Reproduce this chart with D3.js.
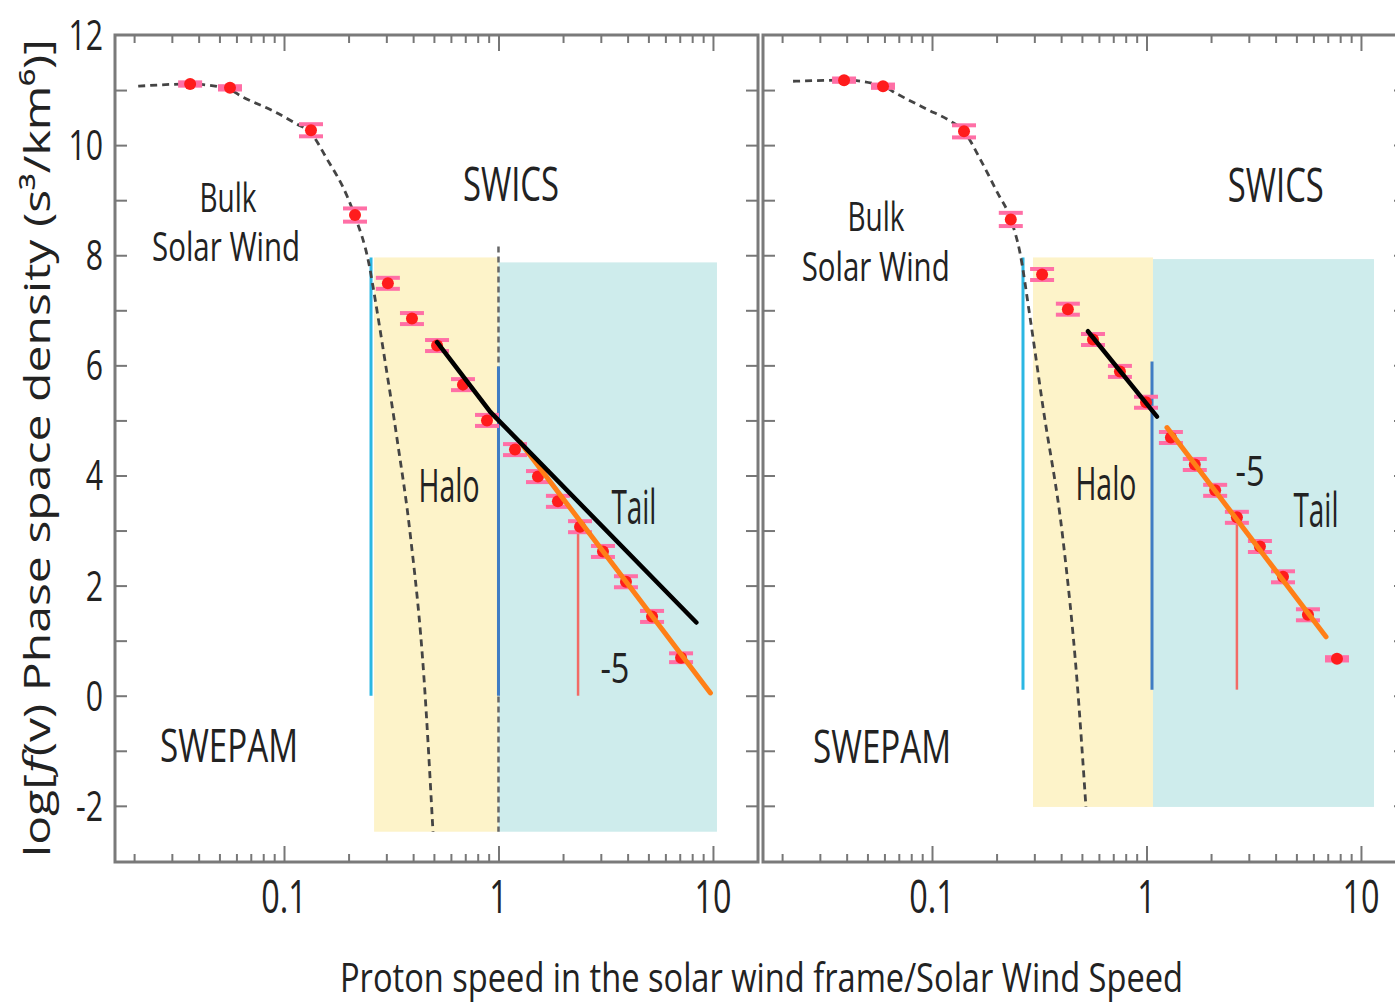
<!DOCTYPE html>
<html>
<head>
<meta charset="utf-8">
<script src="https://cdn.jsdelivr.net/npm/d3@7"></script>
<style>
  body { margin: 0; background: #fff; }
  text { font-family: "Open Sans", "Noto Sans", sans-serif; fill: #222; }
</style>
</head>
<body>
<div id="chart"></div>
<script>
// measured points, left panel (SWEPAM + SWICS)
var vLeft = [0.0365, 0.056, 0.1336, 0.2143, 0.305, 0.395, 0.517, 0.683, 0.884, 1.194, 1.528, 1.893, 2.40, 3.07, 3.93, 5.20, 7.10];
var fLeft = [11.11, 11.04, 10.27, 8.73, 7.49, 6.85, 6.36, 5.65, 5.0, 4.47, 3.98, 3.53, 3.07, 2.62, 2.07, 1.44, 0.69];
var eLeft = [0.03, 0.03, 0.11, 0.12, 0.1, 0.1, 0.1, 0.1, 0.1, 0.1, 0.1, 0.1, 0.1, 0.1, 0.1, 0.1, 0.08];

// measured points, right panel
var vRight = [0.0389, 0.0591, 0.141, 0.233, 0.326, 0.430, 0.563, 0.752, 0.995, 1.30, 1.68, 2.09, 2.64, 3.38, 4.33, 5.66, 7.73];
var fRight = [11.18, 11.07, 10.25, 8.65, 7.65, 7.02, 6.47, 5.89, 5.33, 4.69, 4.20, 3.73, 3.24, 2.71, 2.16, 1.47, 0.67];
var eRight = [0.03, 0.03, 0.11, 0.12, 0.1, 0.1, 0.1, 0.1, 0.1, 0.1, 0.1, 0.1, 0.1, 0.1, 0.1, 0.1, 0.03];

// bulk (core) curve
var coreLeftV = [0.0209, 0.0365, 0.0548, 0.0644, 0.0889, 0.115, 0.132, 0.1585, 0.197, 0.214, 0.249, 0.266, 0.290, 0.337, 0.387, 0.450, 0.495];
var coreLeftF = [11.07, 11.11, 11.02, 10.87, 10.62, 10.38, 10.24, 9.75, 9.07, 8.71, 7.84, 7.2, 6.29, 4.65, 2.96, 0.29, -2.47];
var coreRightV = [0.0225, 0.0389, 0.0591, 0.0687, 0.0948, 0.1214, 0.141, 0.1675, 0.201, 0.233, 0.257, 0.286, 0.329, 0.408, 0.474, 0.522];
var coreRightF = [11.16, 11.18, 11.07, 10.93, 10.65, 10.44, 10.25, 9.75, 9.15, 8.65, 8.05, 6.89, 5.25, 2.84, 0.29, -2.02];

// fitted lines [v, f]
var haloLeft = [[0.517, 6.42], [0.918, 5.15], [8.37, 1.33]];
var tailLeft = [[1.266, 4.6], [9.73, 0.05]];
var haloRight = [[0.533, 6.62], [1.12, 5.07]];
var tailRight = [[1.246, 4.87], [6.87, 1.07]];

// regions: [vStart, vEnd, fTop, fBottom]
var haloBandLeft = [0.263, 1.0, 7.96, -2.47];
var tailBandLeft = [1.0, 10.44, 7.87, -2.47];
var haloBandRight = [0.2957, 1.072, 7.96, -2.02];
var tailBandRight = [1.072, 11.5, 7.93, -2.02];

// vertical markers: [v, fTop, fBottom]
var cyanLeft = [0.2545, 7.96, 0], blueLeft = [1.0, 5.98, 0], redLeft = [2.35, 3.07, 0], splitLeft = [1.0, 8.16, -2.47];
var cyanRight = [0.2656, 7.96, 0.11], blueRight = [1.061, 6.07, 0.11], redRight = [2.64, 3.24, 0.11];

var xMajor = [0.1, 1, 10];
var xMajorLabels = ["0.1", "1", "10"];
var yLabels = [-2, 0, 2, 4, 6, 8, 10, 12];

var labelsLeft = [
  {t: "Bulk", v: 0.0548, f: 8.78}, {t: "Solar Wind", v: 0.0537, f: 7.89},
  {t: "SWICS", v: 1.143, f: 8.98}, {t: "Halo", v: 0.588, f: 3.51},
  {t: "Tail", v: 4.28, f: 3.11}, {t: "-5", v: 3.49, f: 0.24},
  {t: "SWEPAM", v: 0.0554, f: -1.2}
];
var labelsRight = [
  {t: "Bulk", v: 0.0548, f: 8.44}, {t: "Solar Wind", v: 0.0546, f: 7.53},
  {t: "SWICS", v: 4.01, f: 8.96}, {t: "Halo", v: 0.647, f: 3.55},
  {t: "Tail", v: 6.17, f: 3.07}, {t: "-5", v: 3.04, f: 3.8},
  {t: "SWEPAM", v: 0.0585, f: -1.22}
];

var W = 1395, H = 1008;
var top0 = 35, bottom0 = 862, panelW = 643;

var x = d3.scaleLog().domain([Math.pow(10, -1.788), Math.pow(10, 1.21)]).range([0, panelW]);
var y = d3.scaleLinear().domain([-3.02, 12]).range([bottom0, top0]);

var svg = d3.select("#chart").append("svg")
  .attr("width", W).attr("height", H);
svg.append("rect").attr("width", W).attr("height", H).attr("fill", "#fff");

// label sizes [font size, width]
var labelStyle = {
  "Bulk": [40, 57], "Solar Wind": [40, 148], "SWICS": [48, 96],
  "Halo": [46, 61], "Tail": [48, 45], "-5": [42, 29], "SWEPAM": [45, 138]
};

var minors = [];
[-2, -1, 0, 1].forEach(function(k) {
  for (var m = 2; m <= 9; m++) {
    var v = m * Math.pow(10, k);
    if (v > x.domain()[0] && v < x.domain()[1]) minors.push(v);
  }
});

function tick_style(a) {
  a.select(".domain").remove();
  a.selectAll("line").attr("stroke", "#777").attr("stroke-width", 2);
}

function draw_panel(x0, id, d) {
  svg.append("clipPath").attr("id", id)
    .append("rect").attr("x", 0).attr("y", top0).attr("width", panelW).attr("height", bottom0 - top0);

  var g = svg.append("g").attr("transform", "translate(" + x0 + ",0)");
  var c = g.append("g").attr("clip-path", "url(#" + id + ")");

  // shaded regions
  [[d.halo, "#fdf3c9"], [d.tail, "#ceecec"]].forEach(function(b) {
    c.append("rect")
      .attr("x", x(b[0][0])).attr("y", y(b[0][2]))
      .attr("width", x(b[0][1]) - x(b[0][0]))
      .attr("height", y(b[0][3]) - y(b[0][2]))
      .attr("fill", b[1]);
  });

  if (d.split) {
    c.append("line")
      .attr("x1", x(d.split[0])).attr("x2", x(d.split[0]))
      .attr("y1", y(d.split[1])).attr("y2", y(d.split[2]))
      .attr("stroke", "#666").attr("stroke-width", 2.5).attr("stroke-dasharray", "6,4");
  }

  [[d.cyan, "#2bb7e3", 3], [d.blue, "#3f7cc4", 3], [d.red, "#f26b66", 2.5]].forEach(function(m) {
    c.append("line")
      .attr("x1", x(m[0][0])).attr("x2", x(m[0][0]))
      .attr("y1", y(m[0][1])).attr("y2", y(m[0][2]))
      .attr("stroke", m[1]).attr("stroke-width", m[2]);
  });

  // bulk curve
  var core = d.coreV.map(function(v, i) { return [v, d.coreF[i]]; });
  c.append("path")
    .datum(core)
    .attr("fill", "none")
    .attr("stroke", "#444")
    .attr("stroke-width", 2.8)
    .attr("stroke-dasharray", "7,5")
    .attr("d", d3.line().curve(d3.curveMonotoneX)
      .x(function(p) { return x(p[0]); })
      .y(function(p) { return y(p[1]); }));

  // data points with error bars
  var pts = c.selectAll(".pt").data(d.v.map(function(v, i) { return {v: v, f: d.f[i], e: d.e[i]}; }))
    .enter().append("g").attr("class", "pt");
  pts.append("line")
    .attr("x1", function(p) { return x(p.v); }).attr("x2", function(p) { return x(p.v); })
    .attr("y1", function(p) { return y(p.f + p.e); }).attr("y2", function(p) { return y(p.f - p.e); })
    .attr("stroke", "#ff6fa6").attr("stroke-width", 4);
  [1, -1].forEach(function(s) {
    pts.append("line")
      .attr("x1", function(p) { return x(p.v) - 12; }).attr("x2", function(p) { return x(p.v) + 12; })
      .attr("y1", function(p) { return y(p.f + s * p.e); }).attr("y2", function(p) { return y(p.f + s * p.e); })
      .attr("stroke", "#ff6fa6").attr("stroke-width", 4);
  });
  pts.append("circle")
    .attr("cx", function(p) { return x(p.v); })
    .attr("cy", function(p) { return y(p.f); })
    .attr("r", 6)
    .attr("fill", "#ff1c1c");

  var lf = d3.line().x(function(p) { return x(p[0]); }).y(function(p) { return y(p[1]); });
  c.append("path").datum(d.tailFit).attr("fill", "none")
    .attr("stroke", "#ff7f17").attr("stroke-width", 5).attr("stroke-linecap", "round").attr("d", lf);
  c.append("path").datum(d.haloFit).attr("fill", "none")
    .attr("stroke", "#000").attr("stroke-width", 4.5).attr("stroke-linecap", "round").attr("d", lf);

  // annotations
  d.labels.forEach(function(l) {
    var st = labelStyle[l.t];
    g.append("text")
      .attr("x", x(l.v)).attr("y", y(l.f))
      .attr("text-anchor", "middle")
      .attr("font-size", st[0])
      .attr("textLength", st[1])
      .attr("lengthAdjust", "spacingAndGlyphs")
      .text(l.t);
  });

  // frame
  g.append("rect")
    .attr("x", 0).attr("y", top0).attr("width", panelW).attr("height", bottom0 - top0)
    .attr("fill", "none").attr("stroke", "#7a7a7a").attr("stroke-width", 3);

  // x ticks, bottom and top, pointing inward
  [[minors, 8], [xMajor, 16]].forEach(function(t) {
    g.append("g").attr("transform", "translate(0," + bottom0 + ")")
      .call(d3.axisTop(x).tickValues(t[0]).tickSize(t[1]).tickFormat(""))
      .call(tick_style);
    g.append("g").attr("transform", "translate(0," + top0 + ")")
      .call(d3.axisBottom(x).tickValues(t[0]).tickSize(t[1]).tickFormat(""))
      .call(tick_style);
  });

  // y ticks, left and right, inward
  var yt = d3.range(-2, 12);
  g.append("g")
    .call(d3.axisRight(y).tickValues(yt).tickSize(12).tickFormat(""))
    .call(tick_style);
  g.append("g").attr("transform", "translate(" + panelW + ",0)")
    .call(d3.axisLeft(y).tickValues(yt).tickSize(12).tickFormat(""))
    .call(tick_style);

  // x tick labels
  xMajor.forEach(function(v, i) {
    g.append("text")
      .attr("transform", "translate(" + x(v) + ",913) scale(0.72,1)")
      .attr("text-anchor", "middle")
      .attr("font-size", 45)
      .text(xMajorLabels[i]);
  });
  return g;
}

draw_panel(115, "clipL", {
  v: vLeft, f: fLeft, e: eLeft, coreV: coreLeftV, coreF: coreLeftF,
  halo: haloBandLeft, tail: tailBandLeft, split: splitLeft,
  cyan: cyanLeft, blue: blueLeft, red: redLeft,
  haloFit: haloLeft, tailFit: tailLeft, labels: labelsLeft
});
draw_panel(763, "clipR", {
  v: vRight, f: fRight, e: eRight, coreV: coreRightV, coreF: coreRightF,
  halo: haloBandRight, tail: tailBandRight, split: null,
  cyan: cyanRight, blue: blueRight, red: redRight,
  haloFit: haloRight, tailFit: tailRight, labels: labelsRight
});

// y tick labels, left panel only
yLabels.forEach(function(v) {
  svg.append("text")
    .attr("transform", "translate(103," + (y(v) + 15) + ") scale(0.72,1)")
    .attr("text-anchor", "end")
    .attr("font-size", 42)
    .text(v);
});

// axis titles
svg.append("text")
  .attr("x", 340).attr("y", 992)
  .attr("font-size", 40)
  .attr("textLength", 843)
  .attr("lengthAdjust", "spacingAndGlyphs")
  .text("Proton speed in the solar wind frame/Solar Wind Speed");

var yt = svg.append("text")
  .attr("transform", "translate(50,857) rotate(-90)")
  .attr("font-size", 37)
  .attr("textLength", 818)
  .attr("lengthAdjust", "spacingAndGlyphs");
yt.append("tspan").text("log[");
yt.append("tspan").attr("font-style", "italic").attr("font-family", "DejaVu Serif").text("f");
yt.append("tspan").text("(v)  Phase space density (s³/km⁶)]");
</script>
</body>
</html>
